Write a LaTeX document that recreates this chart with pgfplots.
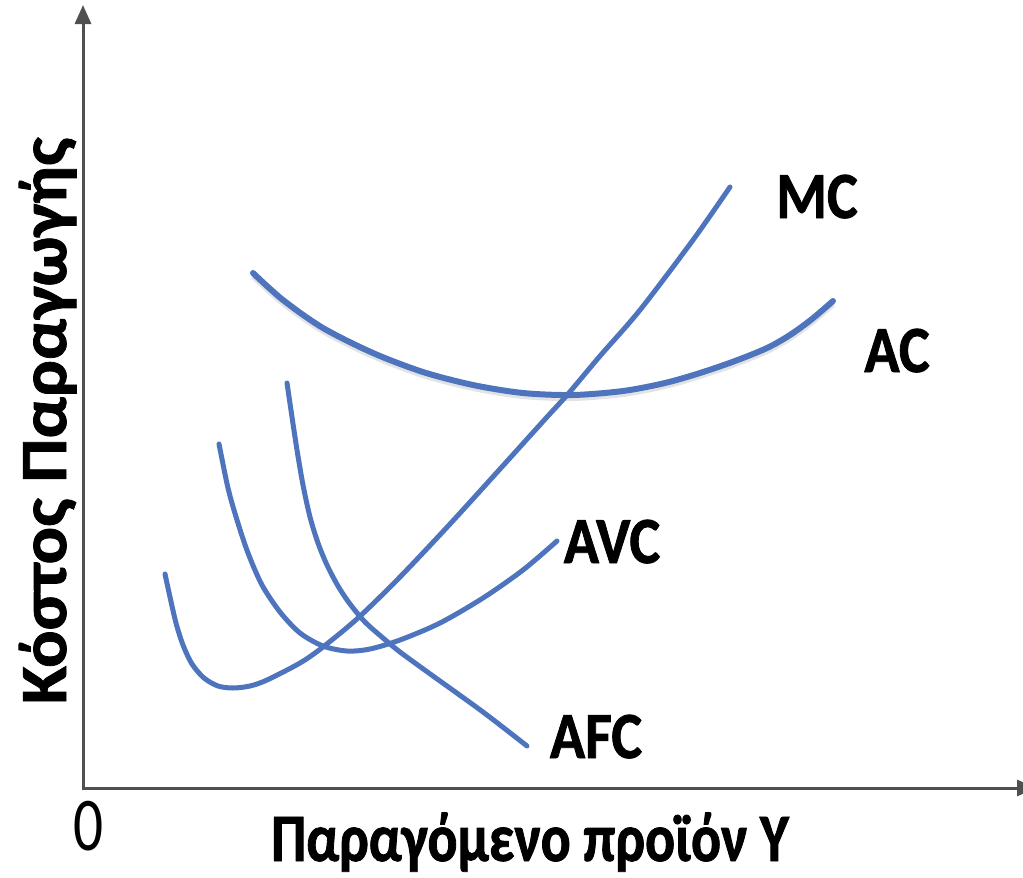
\documentclass[border=0pt]{standalone}
\usepackage{pgfplots}
\usepackage{pgfplotstable}
\pgfplotsset{compat=1.18}
\usetikzlibrary{arrows.meta}
\usepackage{fontspec}
\setmainfont{Carlito}
\newfontfamily\lab[FakeStretch=0.88, BoldFeatures={FakeBold=1.2}]{Carlito}
\newfontfamily\zlab[FakeStretch=0.78]{Carlito}
\newfontfamily\xlab[FakeStretch=0.82, BoldFeatures={FakeBold=1.2}]{Carlito}
\newfontfamily\ylab[FakeStretch=1.06, BoldFeatures={FakeBold=1.2}]{Carlito}
\definecolor{curve}{RGB}{79,116,190}
\definecolor{axisgray}{RGB}{80,80,80}

\pgfplotstableread{
x y
253 273
283 300
323 328
373 353
423 372
473 385
523 393
573 395
623 391
665 383
700 373
735 361
767 348
790 335
812 319
833 301
}\ACdata

\pgfplotstableread{
x y
165 574
170 597
176 623
183 645
192 664
204 678
218 686
233 688
250 686
267 680
300 663
323 647
358 618
400 577
450 524
500 469
547 417
568 394
600 356
640 310
693 240
730 187
}\MCdata

\pgfplotstableread{
x y
219 444
228 488
237 520
248 553
262 585
280 612
300 633
323 646
347 651
370 649
400 640
440 623
483 598
523 570
557 541
}\AVCdata

\pgfplotstableread{
x y
287 383
292 417
297 450
303 485
310 517
318 543
327 565
338 586
350 604
365 622
383 638
400 652
433 676
483 712
527 746
}\AFCdata

\begin{document}
\begin{tikzpicture}
\begin{axis}[
  scale only axis,
  width=511.5pt, height=439pt,
  xmin=0, xmax=1023, ymin=0, ymax=878,
  y dir=reverse,
  hide axis,
  clip=false,
]
\coordinate (bl) at (axis cs:0,878);
\coordinate (tr) at (axis cs:1023,0);
% axes
\draw[axisgray, line width=1.5pt, -{Triangle[length=9.5pt,width=8pt]}] (axis cs:83,788) -- (axis cs:83,5);
\draw[axisgray, line width=1.5pt, -{Triangle[length=9.5pt,width=8pt]}] (axis cs:82.3,788) -- (axis cs:1036,788);

% AC shadow
\addplot[gray!22, line width=3pt, smooth] table[x=x, y expr=\thisrow{y}+3] {\ACdata};
\addplot[curve, line width=3pt, smooth, line cap=round] table[x=x, y=y] {\ACdata};
\addplot[curve, line width=2.5pt, smooth, line cap=round] table[x=x, y=y] {\MCdata};
\addplot[curve, line width=2.5pt, smooth, line cap=round] table[x=x, y=y] {\AVCdata};
\addplot[curve, line width=2.5pt, smooth, line cap=round] table[x=x, y=y] {\AFCdata};

% labels
\node[inner sep=0pt, anchor=base, font=\lab\bfseries\fontsize{33}{33}\selectfont] at (axis cs:817,218) {MC};
\node[inner sep=0pt, anchor=base, font=\lab\bfseries\fontsize{33}{33}\selectfont] at (axis cs:897,372) {AC};
\node[inner sep=0pt, anchor=base, font=\lab\bfseries\fontsize{33}{33}\selectfont] at (axis cs:612,563) {AVC};
\node[inner sep=0pt, anchor=base, font=\lab\bfseries\fontsize{33}{33}\selectfont] at (axis cs:596,758) {AFC};
\node[inner sep=0pt, anchor=base, font=\zlab\fontsize{38}{38}\selectfont] at (axis cs:89,850) {0};
\node[inner sep=0pt, anchor=base, font=\xlab\bfseries\fontsize{34}{34}\selectfont] at (axis cs:530,861) {Παραγόμενο προϊόν Υ};
\node[inner sep=0pt, anchor=base, rotate=90, font=\ylab\bfseries\fontsize{33}{33}\selectfont] at (axis cs:66,421) {Κόστος Παραγωγής};
\end{axis}
\pgfresetboundingbox
\useasboundingbox (bl) rectangle (tr);
\end{tikzpicture}
\end{document}
